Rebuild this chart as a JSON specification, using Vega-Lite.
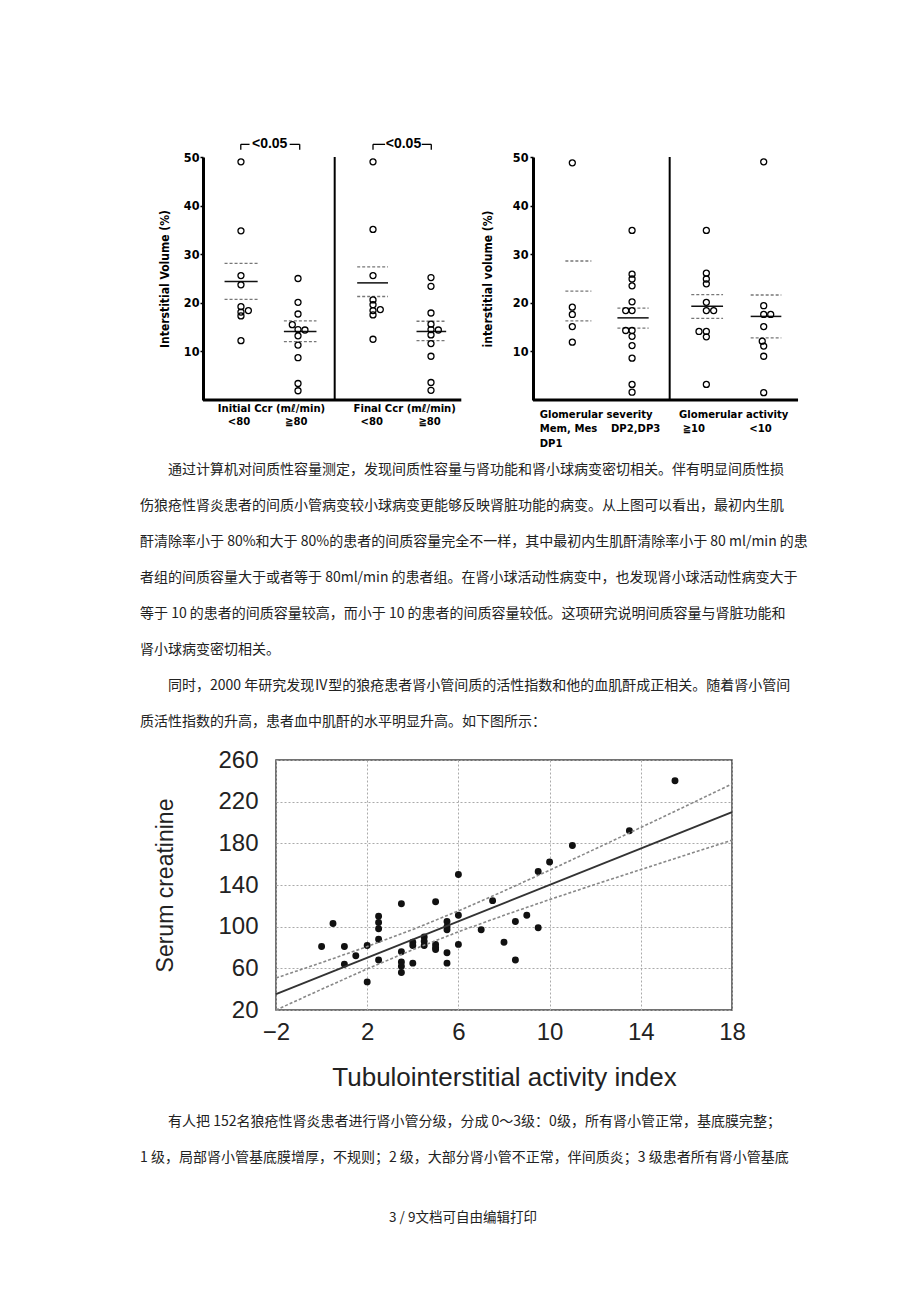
{
  "$schema": "https://vega.github.io/schema/vega-lite/v6.json",
  "background": "white",
  "padding": {"left": 137, "top": 0, "right": 0, "bottom": 0},
  "autosize": {"type": "pad"},
  "columns": 3,
  "spacing": {"row": 0, "column": 0},
  "align": {"row": "each", "column": "each"},
  "bounds": "flush",
  "config": {"view": {"stroke": null}, "font": "Liberation Sans"},
  "datasets": {
    "blank": [{}],
    "tl_pts": [
      {"pos": 0.65, "v": 49.0}, {"pos": 0.65, "v": 34.8}, {"pos": 0.65, "v": 25.6}, {"pos": 0.65, "v": 23.7},
      {"pos": 0.65, "v": 19.2}, {"pos": 0.777, "v": 18.4}, {"pos": 0.65, "v": 18.1}, {"pos": 0.65, "v": 17.3}, {"pos": 0.65, "v": 12.2},
      {"pos": 1.627, "v": 25.0}, {"pos": 1.627, "v": 20.1}, {"pos": 1.627, "v": 17.7}, {"pos": 1.529, "v": 15.5},
      {"pos": 1.627, "v": 14.5}, {"pos": 1.746, "v": 14.4}, {"pos": 1.627, "v": 13.2}, {"pos": 1.627, "v": 11.3},
      {"pos": 1.627, "v": 8.7}, {"pos": 1.627, "v": 3.4}, {"pos": 1.627, "v": 1.9},
      {"pos": 2.911, "v": 49.0}, {"pos": 2.911, "v": 35.1}, {"pos": 2.911, "v": 25.6}, {"pos": 2.911, "v": 20.6},
      {"pos": 2.911, "v": 19.6}, {"pos": 3.036, "v": 18.6}, {"pos": 2.911, "v": 18.4}, {"pos": 2.911, "v": 17.5}, {"pos": 2.911, "v": 12.5},
      {"pos": 3.904, "v": 25.2}, {"pos": 3.904, "v": 23.4}, {"pos": 3.904, "v": 17.9}, {"pos": 3.904, "v": 15.6},
      {"pos": 3.904, "v": 14.5}, {"pos": 4.03, "v": 14.4}, {"pos": 3.904, "v": 13.4}, {"pos": 3.904, "v": 11.6},
      {"pos": 3.904, "v": 9.0}, {"pos": 3.904, "v": 3.6}, {"pos": 3.904, "v": 2.0}
    ],
    "tr_pts": [
      {"pos": 6.324, "v": 48.8}, {"pos": 6.324, "v": 19.1}, {"pos": 6.324, "v": 17.6}, {"pos": 6.324, "v": 15.1}, {"pos": 6.324, "v": 11.9},
      {"pos": 7.347, "v": 34.9}, {"pos": 7.347, "v": 25.9}, {"pos": 7.347, "v": 24.9}, {"pos": 7.347, "v": 23.5}, {"pos": 7.347, "v": 20.2},
      {"pos": 7.238, "v": 18.4}, {"pos": 7.347, "v": 18.4}, {"pos": 7.238, "v": 14.3}, {"pos": 7.347, "v": 14.3}, {"pos": 7.347, "v": 13.1},
      {"pos": 7.347, "v": 11.2}, {"pos": 7.347, "v": 8.6}, {"pos": 7.347, "v": 3.2}, {"pos": 7.347, "v": 1.6},
      {"pos": 8.619, "v": 34.9}, {"pos": 8.619, "v": 26.1}, {"pos": 8.619, "v": 24.9}, {"pos": 8.619, "v": 23.9}, {"pos": 8.619, "v": 20.1},
      {"pos": 8.619, "v": 18.4}, {"pos": 8.744, "v": 18.4}, {"pos": 8.493, "v": 14.1}, {"pos": 8.619, "v": 14.1}, {"pos": 8.619, "v": 13.0}, {"pos": 8.619, "v": 3.2},
      {"pos": 9.601, "v": 49.0}, {"pos": 9.601, "v": 19.4}, {"pos": 9.601, "v": 17.6}, {"pos": 9.721, "v": 17.6}, {"pos": 9.601, "v": 15.1},
      {"pos": 9.576, "v": 12.1}, {"pos": 9.601, "v": 11.1}, {"pos": 9.601, "v": 9.0}, {"pos": 9.601, "v": 1.5}
    ],
    "top_lines": [
      {"lo": 0.369, "hi": 0.936, "v": 24.4, "k": "m"}, {"lo": 0.369, "hi": 0.936, "v": 28.1, "k": "q"}, {"lo": 0.369, "hi": 0.936, "v": 20.7, "k": "q"},
      {"lo": 1.385, "hi": 1.943, "v": 14.1, "k": "m"}, {"lo": 1.385, "hi": 1.943, "v": 16.3, "k": "q"}, {"lo": 1.385, "hi": 1.943, "v": 12.0, "k": "q"},
      {"lo": 2.64, "hi": 3.168, "v": 24.1, "k": "m"}, {"lo": 2.64, "hi": 3.168, "v": 27.4, "k": "q"}, {"lo": 2.64, "hi": 3.168, "v": 21.3, "k": "q"},
      {"lo": 3.656, "hi": 4.164, "v": 14.1, "k": "m"}, {"lo": 3.656, "hi": 4.164, "v": 16.2, "k": "q"}, {"lo": 3.656, "hi": 4.164, "v": 12.2, "k": "q"},
      {"lo": 6.205, "hi": 6.65, "v": 28.6, "k": "q"}, {"lo": 6.205, "hi": 6.65, "v": 22.4, "k": "q"}, {"lo": 6.205, "hi": 6.65, "v": 16.3, "k": "q"},
      {"lo": 7.096, "hi": 7.631, "v": 18.9, "k": "q"}, {"lo": 7.096, "hi": 7.631, "v": 16.9, "k": "m"}, {"lo": 7.096, "hi": 7.631, "v": 14.8, "k": "q"},
      {"lo": 8.361, "hi": 8.905, "v": 21.7, "k": "q"}, {"lo": 8.361, "hi": 8.905, "v": 19.3, "k": "m"}, {"lo": 8.361, "hi": 8.905, "v": 16.8, "k": "q"},
      {"lo": 9.378, "hi": 9.903, "v": 21.6, "k": "q"}, {"lo": 9.378, "hi": 9.903, "v": 17.2, "k": "m"}, {"lo": 9.378, "hi": 9.903, "v": 12.8, "k": "q"}
    ],
    "top_frame": [
      {"part": "base", "x1": 0, "x2": 4.423, "y1": 0, "y2": 0},
      {"part": "div", "x1": 2.255, "x2": 2.255, "y1": 0, "y2": 50},
      {"part": "base", "x1": 5.651, "x2": 10.189, "y1": 0, "y2": 0},
      {"part": "div", "x1": 7.991, "x2": 7.991, "y1": 0, "y2": 50}
    ],
    "top_br": [
      {"x1": 0.647, "x2": 0.797, "y1": 52.6, "y2": 52.6}, {"x1": 0.647, "x2": 0.647, "y1": 52.6, "y2": 51.5},
      {"x1": 1.484, "x2": 1.656, "y1": 52.6, "y2": 52.6}, {"x1": 1.656, "x2": 1.656, "y1": 52.6, "y2": 51.5},
      {"x1": 2.911, "x2": 3.118, "y1": 52.6, "y2": 52.6}, {"x1": 2.911, "x2": 2.911, "y1": 52.6, "y2": 51.5},
      {"x1": 3.746, "x2": 3.909, "y1": 52.6, "y2": 52.6}, {"x1": 3.909, "x2": 3.909, "y1": 52.6, "y2": 51.5}
    ],
    "top_brt": [
      {"x": 1.142, "y": 52.6, "t": "<0.05"}, {"x": 3.433, "y": 52.6, "t": "<0.05"}
    ],
    "top_txt_c": [
      {"x": 1.173, "y": -1.9, "t": "Initial  Ccr (mℓ/min)"}, {"x": 0.618, "y": -4.6, "t": "<80"}, {"x": 1.598, "y": -4.6, "t": "≧80"},
      {"x": 3.454, "y": -1.9, "t": "Final  Ccr (mℓ/min)"}, {"x": 2.889, "y": -4.6, "t": "<80"}, {"x": 3.881, "y": -4.6, "t": "≧80"},
      {"x": 9.087, "y": -3.02, "t": "Glomerular activity"}, {"x": 8.405, "y": -5.97, "t": "≧10"}, {"x": 9.546, "y": -5.97, "t": "<10"}
    ],
    "top_txt_l": [
      {"x": 5.766, "y": -3.02, "t": "Glomerular severity"}, {"x": 5.766, "y": -5.97, "t": "Mem, Mes"},
      {"x": 6.986, "y": -5.97, "t": "DP2,DP3"}, {"x": 5.766, "y": -9.05, "t": "DP1"}
    ],
    "sc_pts": [
      {"x": 0, "y": 81}, {"x": 0.5, "y": 103}, {"x": 1, "y": 81}, {"x": 1, "y": 64}, {"x": 1.5, "y": 72},
      {"x": 2, "y": 82}, {"x": 2, "y": 47}, {"x": 2.5, "y": 110}, {"x": 2.5, "y": 104}, {"x": 2.5, "y": 98},
      {"x": 2.5, "y": 88}, {"x": 2.5, "y": 68}, {"x": 3.5, "y": 122}, {"x": 3.5, "y": 76}, {"x": 3.5, "y": 66},
      {"x": 3.5, "y": 62}, {"x": 3.5, "y": 56}, {"x": 4, "y": 85}, {"x": 4, "y": 82}, {"x": 4, "y": 65},
      {"x": 4.5, "y": 90}, {"x": 4.5, "y": 86}, {"x": 4.5, "y": 82}, {"x": 5, "y": 124}, {"x": 5, "y": 83},
      {"x": 5, "y": 80}, {"x": 5, "y": 78}, {"x": 5.5, "y": 105}, {"x": 5.5, "y": 100}, {"x": 5.5, "y": 97},
      {"x": 5.5, "y": 75}, {"x": 5.5, "y": 65}, {"x": 6, "y": 150}, {"x": 6, "y": 111}, {"x": 6, "y": 83},
      {"x": 7, "y": 97}, {"x": 7.5, "y": 125}, {"x": 8, "y": 85}, {"x": 8.5, "y": 105}, {"x": 8.5, "y": 68},
      {"x": 9, "y": 111}, {"x": 9.5, "y": 153}, {"x": 9.5, "y": 99}, {"x": 10, "y": 162}, {"x": 11, "y": 178},
      {"x": 13.5, "y": 192}, {"x": 15.5, "y": 240}
    ],
    "sc_fit": [
      {"x": -2, "y": 35.2, "line": "fit"}, {"x": 18, "y": 210, "line": "fit"},
      {"x": -2, "y": 50.7, "line": "upper"}, {"x": 0, "y": 65.5, "line": "upper"}, {"x": 2, "y": 80.9, "line": "upper"},
      {"x": 4, "y": 97.3, "line": "upper"}, {"x": 6, "y": 115.1, "line": "upper"}, {"x": 8, "y": 134.3, "line": "upper"},
      {"x": 10, "y": 154.2, "line": "upper"}, {"x": 12, "y": 174.6, "line": "upper"}, {"x": 14, "y": 195.2, "line": "upper"},
      {"x": 16, "y": 216, "line": "upper"}, {"x": 18, "y": 237, "line": "upper"},
      {"x": -2, "y": 20, "line": "lower"}, {"x": 0, "y": 39.9, "line": "lower"}, {"x": 2, "y": 59.5, "line": "lower"},
      {"x": 4, "y": 77.9, "line": "lower"}, {"x": 6, "y": 95.1, "line": "lower"}, {"x": 8, "y": 110.9, "line": "lower"},
      {"x": 10, "y": 126, "line": "lower"}, {"x": 12, "y": 140.6, "line": "lower"}, {"x": 14, "y": 154.8, "line": "lower"},
      {"x": 16, "y": 169, "line": "lower"}, {"x": 18, "y": 183, "line": "lower"}
    ],
    "p1": [
      {"line": 1, "ind": 2, "t": "通过计算机对间质性容量测定，发现间质性容量与肾功能和肾小球病变密切相关。伴有明显间质性损"},
      {"line": 2, "ind": 0, "t": "伤狼疮性肾炎患者的间质小管病变较小球病变更能够反映肾脏功能的病变。从上图可以看出，最初内生肌"},
      {"line": 3, "ind": 0, "t": "酐清除率小于 80%和大于 80%的患者的间质容量完全不一样，其中最初内生肌酐清除率小于 80 ml/min 的患"},
      {"line": 4, "ind": 0, "t": "者组的间质容量大于或者等于 80ml/min 的患者组。在肾小球活动性病变中，也发现肾小球活动性病变大于"},
      {"line": 5, "ind": 0, "t": "等于 10 的患者的间质容量较高，而小于 10 的患者的间质容量较低。这项研究说明间质容量与肾脏功能和"},
      {"line": 6, "ind": 0, "t": "肾小球病变密切相关。"},
      {"line": 7, "ind": 2, "t": "同时，2000 年研究发现Ⅳ型的狼疮患者肾小管间质的活性指数和他的血肌酐成正相关。随着肾小管间"},
      {"line": 8, "ind": 0, "t": "质活性指数的升高，患者血中肌酐的水平明显升高。如下图所示："}
    ],
    "p2": [
      {"line": 1, "ind": 2, "t": "有人把 152名狼疮性肾炎患者进行肾小管分级，分成 0～3级：0级，所有肾小管正常，基底膜完整；"},
      {"line": 2, "ind": 0, "t": "1 级，局部肾小管基底膜增厚，不规则；2 级，大部分肾小管不正常，伴间质炎；3 级患者所有肾小管基底"}
    ],
    "foot": [{"t": "3 / 9文档可自由编辑打印"}]
  },
  "concat": [
    {"data": {"name": "blank"}, "width": 1, "height": 154, "mark": {"type": "point", "opacity": 0}, "encoding": {}},
    {"data": {"name": "blank"}, "width": 1, "height": 1, "mark": {"type": "point", "opacity": 0}, "encoding": {}},
    {"data": {"name": "blank"}, "width": 1, "height": 1, "mark": {"type": "point", "opacity": 0}, "encoding": {}},

    {"data": {"name": "blank"}, "width": 1, "height": 295, "mark": {"type": "point", "opacity": 0}, "encoding": {}},
    {
      "width": 73, "height": 243,
      "resolve": {"scale": {"y": "independent"}, "axis": {"y": "independent"}},
      "layer": [
        {
          "data": {"name": "top_frame"}, "transform": [{"filter": "datum.part == 'base'"}],
          "mark": {"type": "rule", "color": "black", "strokeWidth": 3},
          "encoding": {
            "x": {"field": "x1", "type": "quantitative", "scale": {"domain": [0, 1.25]}, "axis": null},
            "x2": {"field": "x2"},
            "y": {"field": "y1", "type": "quantitative", "scale": {"domain": [0, 50]}, "axis": null},
            "y2": {"field": "y2"}
          }
        },
        {
          "data": {"name": "top_frame"}, "transform": [{"filter": "datum.part == 'div'"}],
          "mark": {"type": "rule", "color": "black", "strokeWidth": 2},
          "encoding": {
            "x": {"field": "x1", "type": "quantitative", "scale": {"domain": [0, 1.25]}, "axis": null},
            "x2": {"field": "x2"},
            "y": {"field": "y1", "type": "quantitative", "scale": {"domain": [0, 50]}, "axis": null},
            "y2": {"field": "y2"}
          }
        },
        {
          "data": {"name": "top_lines"}, "transform": [{"filter": "datum.k == 'q'"}],
          "mark": {"type": "rule", "color": "#777", "strokeWidth": 1.3, "strokeDash": [3, 2]},
          "encoding": {
            "x": {"field": "lo", "type": "quantitative", "scale": {"domain": [0, 1.25]}, "axis": null},
            "x2": {"field": "hi"},
            "y": {"field": "v", "type": "quantitative", "scale": {"domain": [0, 50]}, "axis": null}
          }
        },
        {
          "data": {"name": "top_lines"}, "transform": [{"filter": "datum.k == 'm'"}],
          "mark": {"type": "rule", "color": "#111", "strokeWidth": 1.5},
          "encoding": {
            "x": {"field": "lo", "type": "quantitative", "scale": {"domain": [0, 1.25]}, "axis": null},
            "x2": {"field": "hi"},
            "y": {"field": "v", "type": "quantitative", "scale": {"domain": [0, 50]}, "axis": null}
          }
        },
        {
          "data": {"name": "tl_pts"},
          "mark": {"type": "point", "shape": "circle", "filled": false, "color": "black", "strokeWidth": 1.3, "size": 36, "opacity": 1},
          "encoding": {
            "x": {"field": "pos", "type": "quantitative", "scale": {"domain": [0, 1.25]}, "axis": null},
            "y": {
              "field": "v", "type": "quantitative", "scale": {"domain": [0, 50], "nice": false},
              "axis": {
                "orient": "left", "values": [10, 20, 30, 40, 50], "title": "Interstitial Volume (%)", "grid": false,
                "domainColor": "black", "domainWidth": 3, "tickColor": "black", "tickWidth": 1.5, "tickSize": 3,
                "labelFont": "Liberation Sans Narrow, DejaVu Sans Condensed, Liberation Sans", "labelFontWeight": "bold",
                "labelFontSize": 12.5, "labelColor": "black", "labelPadding": 1, "labelFlush": false,
                "titleFont": "Liberation Sans Narrow, DejaVu Sans Condensed, Liberation Sans", "titleFontWeight": "bold",
                "titleFontSize": 12, "titleColor": "black", "titlePadding": 12
              }
            }
          }
        },
        {
          "data": {"name": "tr_pts"},
          "mark": {"type": "point", "shape": "circle", "filled": false, "color": "black", "strokeWidth": 1.3, "size": 36, "opacity": 1},
          "encoding": {
            "x": {"field": "pos", "type": "quantitative", "scale": {"domain": [0, 1.25]}, "axis": null},
            "y": {
              "field": "v", "type": "quantitative", "scale": {"domain": [0, 50], "nice": false},
              "axis": {
                "orient": "left", "offset": -330, "values": [10, 20, 30, 40, 50], "title": "interstitial volume (%)", "grid": false,
                "domainColor": "black", "domainWidth": 3, "tickColor": "black", "tickWidth": 1.5, "tickSize": 3,
                "labelFont": "Liberation Sans Narrow, DejaVu Sans Condensed, Liberation Sans", "labelFontWeight": "bold",
                "labelFontSize": 12.5, "labelColor": "black", "labelPadding": 2, "labelFlush": false,
                "titleFont": "Liberation Sans Narrow, DejaVu Sans Condensed, Liberation Sans", "titleFontWeight": "bold",
                "titleFontSize": 12, "titleColor": "black", "titlePadding": 18
              }
            }
          }
        },
        {
          "data": {"name": "top_br"},
          "mark": {"type": "rule", "color": "black", "strokeWidth": 1.3},
          "encoding": {
            "x": {"field": "x1", "type": "quantitative", "scale": {"domain": [0, 1.25]}, "axis": null},
            "x2": {"field": "x2"},
            "y": {"field": "y1", "type": "quantitative", "scale": {"domain": [0, 50]}, "axis": null},
            "y2": {"field": "y2"}
          }
        },
        {
          "data": {"name": "top_brt"},
          "mark": {"type": "text", "font": "Liberation Sans", "fontWeight": "bold", "fontSize": 14, "color": "black", "baseline": "middle", "align": "center"},
          "encoding": {
            "x": {"field": "x", "type": "quantitative", "scale": {"domain": [0, 1.25]}, "axis": null},
            "y": {"field": "y", "type": "quantitative", "scale": {"domain": [0, 50]}, "axis": null},
            "text": {"field": "t"}
          }
        },
        {
          "data": {"name": "top_txt_c"},
          "mark": {"type": "text", "font": "Liberation Sans Narrow, DejaVu Sans Condensed, Liberation Sans", "fontWeight": "bold", "fontSize": 11.2, "color": "black", "baseline": "middle", "align": "center"},
          "encoding": {
            "x": {"field": "x", "type": "quantitative", "scale": {"domain": [0, 1.25]}, "axis": null},
            "y": {"field": "y", "type": "quantitative", "scale": {"domain": [0, 50]}, "axis": null},
            "text": {"field": "t"}
          }
        },
        {
          "data": {"name": "top_txt_l"},
          "mark": {"type": "text", "font": "Liberation Sans Narrow, DejaVu Sans Condensed, Liberation Sans", "fontWeight": "bold", "fontSize": 11.2, "color": "black", "baseline": "middle", "align": "left"},
          "encoding": {
            "x": {"field": "x", "type": "quantitative", "scale": {"domain": [0, 1.25]}, "axis": null},
            "y": {"field": "y", "type": "quantitative", "scale": {"domain": [0, 50]}, "axis": null},
            "text": {"field": "t"}
          }
        }
      ]
    },
    {"data": {"name": "blank"}, "width": 1, "height": 1, "mark": {"type": "point", "opacity": 0}, "encoding": {}},

    {
      "data": {"name": "p1"}, "width": 63, "height": {"step": 36},
      "mark": {"type": "text", "align": "left", "baseline": "middle", "font": "Noto Sans CJK SC", "fontSize": 14, "color": "#222"},
      "encoding": {
        "x": {"field": "ind", "type": "quantitative", "scale": {"domain": [0, 4.5]}, "axis": null},
        "y": {"field": "line", "type": "ordinal", "axis": null, "scale": {"type": "point"}},
        "text": {"field": "t"}
      }
    },
    {"data": {"name": "blank"}, "width": 1, "height": 1, "mark": {"type": "point", "opacity": 0}, "encoding": {}},
    {"data": {"name": "blank"}, "width": 1, "height": 308, "mark": {"type": "point", "opacity": 0}, "encoding": {}},

    {"data": {"name": "blank"}, "width": 1, "height": 344, "mark": {"type": "point", "opacity": 0}, "encoding": {}},
    {"data": {"name": "blank"}, "width": 1, "height": 1, "mark": {"type": "point", "opacity": 0}, "encoding": {}},
    {
      "width": 456, "height": 250,
      "view": {"stroke": "#444", "strokeWidth": 1.5},
      "encoding": {
        "x": {
          "field": "x", "type": "quantitative", "scale": {"domain": [-2, 18], "nice": false},
          "axis": {
            "values": [-2, 2, 6, 10, 14, 18], "title": "Tubulointerstitial activity index",
            "grid": true, "gridDash": [2, 2], "gridColor": "#aaa", "ticks": false, "domain": false,
            "labelFont": "Liberation Sans", "labelFontSize": 24, "labelColor": "#222", "labelPadding": 10, "labelFlush": false,
            "titleFont": "Liberation Sans", "titleFontSize": 26, "titleFontWeight": "normal", "titleColor": "#222", "titlePadding": 20
          }
        },
        "y": {
          "field": "y", "type": "quantitative", "scale": {"domain": [20, 260], "nice": false, "zero": false},
          "axis": {
            "values": [20, 60, 100, 140, 180, 220, 260], "title": "Serum creatinine",
            "grid": true, "gridDash": [2, 2], "gridColor": "#aaa", "ticks": false, "domain": false,
            "labelFont": "Liberation Sans", "labelFontSize": 24, "labelColor": "#222", "labelPadding": 18, "labelFlush": false,
            "titleFont": "Liberation Sans", "titleFontSize": 23, "titleFontWeight": "normal", "titleColor": "#222", "titlePadding": 40
          }
        }
      },
      "layer": [
        {
          "data": {"name": "sc_pts"},
          "mark": {"type": "circle", "color": "#111", "size": 48, "opacity": 1}
        },
        {
          "data": {"name": "sc_fit"}, "transform": [{"filter": "datum.line == 'fit'"}],
          "mark": {"type": "line", "color": "#333", "strokeWidth": 2}
        },
        {
          "data": {"name": "sc_fit"}, "transform": [{"filter": "datum.line != 'fit'"}],
          "mark": {"type": "line", "color": "#888", "strokeWidth": 1.6, "strokeDash": [3, 2]},
          "encoding": {"detail": {"field": "line"}}
        }
      ]
    },

    {
      "data": {"name": "p2"}, "width": 63, "height": {"step": 36},
      "mark": {"type": "text", "align": "left", "baseline": "middle", "font": "Noto Sans CJK SC", "fontSize": 14, "color": "#222"},
      "encoding": {
        "x": {"field": "ind", "type": "quantitative", "scale": {"domain": [0, 4.5]}, "axis": null},
        "y": {"field": "line", "type": "ordinal", "axis": null, "scale": {"type": "point"}},
        "text": {"field": "t"}
      }
    },
    {"data": {"name": "blank"}, "width": 1, "height": 96, "mark": {"type": "point", "opacity": 0}, "encoding": {}},
    {"data": {"name": "blank"}, "width": 1, "height": 1, "mark": {"type": "point", "opacity": 0}, "encoding": {}},

    {"data": {"name": "blank"}, "width": 1, "height": 1, "mark": {"type": "point", "opacity": 0}, "encoding": {}},
    {"data": {"name": "blank"}, "width": 1, "height": 1, "mark": {"type": "point", "opacity": 0}, "encoding": {}},
    {
      "data": {"name": "foot"}, "width": 374, "height": 36,
      "mark": {"type": "text", "align": "center", "baseline": "middle", "font": "Noto Sans CJK SC", "fontSize": 13.5, "color": "#222"},
      "encoding": {"text": {"field": "t"}}
    }
  ]
}
